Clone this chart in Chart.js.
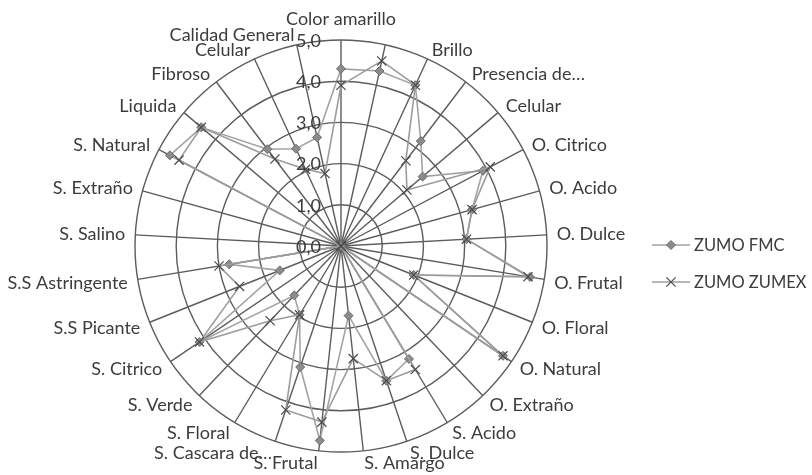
<!DOCTYPE html>
<html>
<head>
<meta charset="utf-8">
<script src="https://cdn.jsdelivr.net/npm/chart.js@4/dist/chart.umd.min.js"></script>
<style>
  html, body { margin: 0; padding: 0; background: #ffffff; }
  canvas { display: block; }
</style>
</head>
<body>
<canvas id="c" width="812" height="475"></canvas>
<script>
// Sensory attributes (clockwise from the top)
const categories = [
  'Color amarillo', '', 'Brillo', 'Presencia de…', 'Celular', 'O. Citrico', 'O. Acido',
  'O. Dulce', 'O. Frutal', 'O. Floral', 'O. Natural', 'O. Extraño', 'S. Acido', 'S. Dulce',
  'S. Amargo', 'S. Frutal', 'S. Cascara de…', 'S. Floral', 'S. Verde', 'S. Citrico',
  'S.S Picante', 'S.S Astringente', 'S. Salino', 'S. Extraño', 'S. Natural', 'Liquida',
  'Fibroso', 'Celular', 'Calidad General'
];

const zumoFMC = [
  4.3, 4.35, 4.3, 3.2, 2.6, 3.9, 3.3, 3.05, 4.65, 1.9, 4.75, 0, 3.2, 3.45,
  1.7, 4.75, 3.1, 1.95, 1.65, 4.15, 1.6, 2.75, 0, 0, 4.7, 4.45, 2.95, 2.6, 2.7
];

const zumoZUMEX = [
  3.9, 4.6, 4.3, 2.6, 2.1, 4.1, 3.3, 3.05, 4.6, 1.9, 4.75, 0, 3.5, 3.45,
  2.75, 4.3, 4.2, 1.95, 2.5, 4.15, 2.65, 3.0, 0, 0, 4.45, 4.45, 2.65, 2.05, 1.8
];

const seriesNames = ['ZUMO FMC', 'ZUMO ZUMEX'];
const tickValues = [0, 1, 2, 3, 4, 5];
const tickLabels = ['0,0', '1,0', '2,0', '3,0', '4,0', '5,0'];

const FONT = '18px Lato, "Open Sans", sans-serif';
const LEGEND_FONT = '16.5px Lato, "Open Sans", sans-serif';
const TEXT = '#3c3c3c';
const GRID = '#5c5c5c';

function drawMarker(ctx, style, x, y, r, fill, stroke, lw) {
  ctx.save();
  ctx.lineWidth = lw;
  ctx.strokeStyle = stroke;
  ctx.fillStyle = fill;
  ctx.beginPath();
  if (style === 'rectRot') {
    ctx.moveTo(x, y - r); ctx.lineTo(x + r, y); ctx.lineTo(x, y + r); ctx.lineTo(x - r, y);
    ctx.closePath(); ctx.fill(); ctx.stroke();
  } else {
    const d = r * Math.SQRT1_2;
    ctx.moveTo(x - d, y - d); ctx.lineTo(x + d, y + d);
    ctx.moveTo(x + d, y - d); ctx.lineTo(x - d, y + d);
    ctx.stroke();
  }
  ctx.restore();
}

// Category labels, value labels and the legend
const textPlugin = {
  id: 'radarText',
  afterDraw(chart) {
    const ctx = chart.ctx;
    const scale = chart.scales.r;
    const cx = scale.xCenter, cy = scale.yCenter;
    ctx.save();
    ctx.font = FONT;
    ctx.fillStyle = TEXT;

    // value axis labels, right-aligned left of the vertical spoke
    ctx.textAlign = 'right';
    ctx.textBaseline = 'middle';
    tickValues.forEach((v, i) => {
      const d = scale.getDistanceFromCenterForValue(v);
      ctx.fillText(tickLabels[i], cx - 20, cy - d + 1);
    });

    // category labels just outside the outer ring
    const outer = scale.getDistanceFromCenterForValue(5) + 10;
    categories.forEach((lbl, i) => {
      if (!lbl) return;
      const p = scale.getPointPosition(i, outer);
      const a = scale.getIndexAngle(i);
      const s = Math.sin(a), c = Math.cos(a);
      if (s > 0.05) ctx.textAlign = 'left';
      else if (s < -0.05) ctx.textAlign = 'right';
      else ctx.textAlign = 'center';
      let y = p.y;
      if (Math.abs(s) < 0.05) {
        ctx.textBaseline = c > 0 ? 'bottom' : 'top';
        y += c > 0 ? -2 : 2;
      } else {
        ctx.textBaseline = 'middle';
        y += c > 0 ? 0 : 2;
      }
      ctx.fillText(lbl, p.x, y);
    });

    // legend
    const ys = [245, 282];
    ctx.font = LEGEND_FONT;
    chart.data.datasets.forEach((ds, i) => {
      const y = ys[i];
      ctx.save();
      ctx.strokeStyle = ds.borderColor;
      ctx.lineWidth = ds.borderWidth;
      ctx.beginPath();
      ctx.moveTo(652, y); ctx.lineTo(690, y);
      ctx.stroke();
      ctx.restore();
      drawMarker(ctx, ds.pointStyle, 671, y, ds.pointRadius, ds.pointBackgroundColor,
        ds.pointBorderColor, ds.pointBorderWidth);
      ctx.fillStyle = TEXT;
      ctx.textAlign = 'left';
      ctx.textBaseline = 'middle';
      ctx.fillText(ds.label, 694, y + 1);
    });
    ctx.restore();
  }
};

new Chart(document.getElementById('c'), {
  type: 'radar',
  data: {
    labels: categories,
    datasets: [
      {
        label: seriesNames[0],
        data: zumoFMC,
        order: 1,
        fill: false,
        borderColor: '#a3a3a3',
        borderWidth: 1.6,
        pointStyle: 'rectRot',
        pointRadius: 4.5,
        pointBackgroundColor: '#8c8c8c',
        pointBorderColor: '#6a6a6a',
        pointBorderWidth: 1
      },
      {
        label: seriesNames[1],
        data: zumoZUMEX,
        order: 0,
        fill: false,
        borderColor: '#9c9c9c',
        borderWidth: 1.6,
        pointStyle: 'crossRot',
        pointRadius: 6.5,
        pointBackgroundColor: '#4a4a4a',
        pointBorderColor: '#4a4a4a',
        pointBorderWidth: 1.2
      }
    ]
  },
  options: {
    responsive: false,
    animation: false,
    layout: { padding: { left: 135, right: 265, top: 40, bottom: 23 } },
    plugins: { legend: { display: false }, tooltip: { enabled: false } },
    elements: { line: { tension: 0 } },
    scales: {
      r: {
        min: 0,
        max: 5,
        ticks: { stepSize: 1, display: false },
        grid: { circular: true, color: GRID, lineWidth: 1.4 },
        angleLines: { color: GRID, lineWidth: 1.4 },
        pointLabels: { display: false }
      }
    }
  },
  plugins: [textPlugin]
});
</script>
</body>
</html>
